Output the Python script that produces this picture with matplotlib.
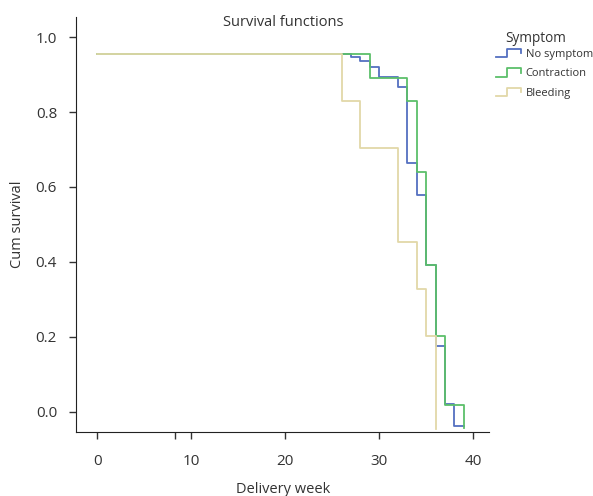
import matplotlib
matplotlib.use("Agg")
import matplotlib.pyplot as plt
from matplotlib.lines import Line2D
from matplotlib.legend_handler import HandlerBase

plt.rcParams['font.family'] = ['Open Sans', 'DejaVu Sans']

# step survival curves
groups = ['No symptom', 'Contraction', 'Bleeding']
colors = ['#5470c0', '#5cbf6a', '#e2d8a8']

weeks_none = [0, 27, 28, 29, 30, 32, 33, 34, 35, 36, 37, 38, 39]
surv_none = [0.954, 0.946, 0.936, 0.920, 0.893, 0.868, 0.663, 0.578, 0.391, 0.176, 0.021, -0.038, -0.038]

weeks_contr = [0, 29, 33, 34, 35, 36, 37, 39]
surv_contr = [0.954, 0.892, 0.830, 0.641, 0.393, 0.203, 0.019, -0.044]

weeks_bleed = [0, 26, 28, 32, 34, 35, 36]
surv_bleed = [0.954, 0.830, 0.704, 0.452, 0.328, 0.203, -0.046]

x_ticks = [0, 10, 20, 30, 40]
y_ticks = [0.0, 0.2, 0.4, 0.6, 0.8, 1.0]


class HandlerStep(HandlerBase):
    def create_artists(self, legend, orig_handle, xdescent, ydescent,
                       width, height, fontsize, trans):
        x0, y0 = -xdescent, -ydescent
        xs = [x0, x0 + width * 0.45, x0 + width * 0.45, x0 + width, x0 + width]
        ys = [y0, y0, y0 + height, y0 + height, y0 + height * 0.45]
        line = Line2D(xs, ys, color=orig_handle.get_color(),
                      linewidth=orig_handle.get_linewidth(), transform=trans)
        return [line]


fig = plt.figure(figsize=(5.93, 4.96), dpi=100)
ax = fig.add_axes([0.129, 0.129, 0.696, 0.837])

series = [(weeks_none, surv_none), (weeks_contr, surv_contr), (weeks_bleed, surv_bleed)]
handles = []
for (w, s), name, c in zip(series, groups, colors):
    h, = ax.step(w, s, where='post', color=c, linewidth=1.3, label=name)
    handles.append(h)

ax.set_xlim(-2.2, 41.7)
ax.set_ylim(-0.054, 1.054)
ax.set_xticks(x_ticks)
ax.set_yticks(y_ticks)
ax.set_yticklabels([f'{v:.1f}' for v in y_ticks])
ax.set_xticks([8.25], minor=True)
ax.tick_params(axis='both', which='both', direction='out', length=5,
               width=1, color='#333333', labelsize=11, labelcolor='#333333')
ax.tick_params(axis='x', pad=11)
ax.tick_params(axis='y', pad=9)

for side in ['top', 'right']:
    ax.spines[side].set_visible(False)
for side in ['left', 'bottom']:
    ax.spines[side].set_color('#222222')

ax.set_xlabel('Delivery week', fontsize=10.5, color='#333333', labelpad=9)
ax.set_ylabel('Cum survival', fontsize=10.5, color='#333333', labelpad=8)
fig.text(0.477, 0.955, 'Survival functions', ha='center', va='center',
         fontsize=10.5, color='#333333')

# legend title placed by hand, the rows sit closer to it than legend() allows
fig.text(0.903, 0.923, 'Symptom', ha='center', va='center',
         fontsize=9.8, color='#333333')
leg = fig.legend(handles=handles, labels=groups,
                 loc='upper left', bbox_to_anchor=(0.82, 0.922),
                 frameon=False, fontsize=8,
                 handler_map={Line2D: HandlerStep()},
                 handlelength=2.2, handleheight=0.8, handletextpad=0.45,
                 labelspacing=0.75)
for t in leg.get_texts():
    t.set_color('#333333')

fig.savefig('out.png', dpi=100)
